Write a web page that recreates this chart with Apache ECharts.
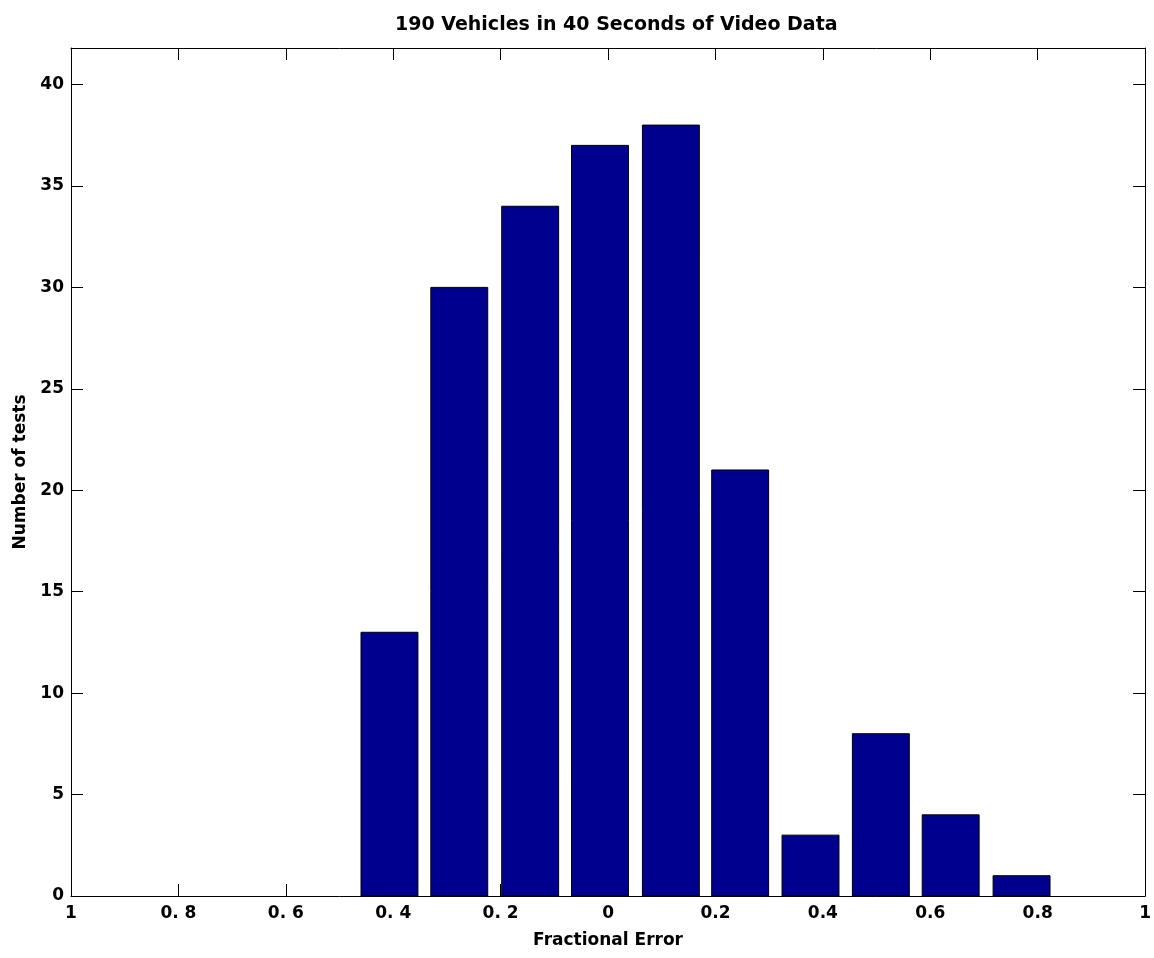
<!DOCTYPE html>
<html>
<head>
<meta charset="utf-8">
<script src="https://cdn.jsdelivr.net/npm/echarts@6/dist/echarts.min.js"></script>
<style>
  html, body { margin: 0; padding: 0; background: #fff; }
  #main { width: 1154px; height: 958px; }
</style>
</head>
<body>
<div id="main"></div>
<script>
// bin centres (fractional error) and counts
var binCenters = [-0.407, -0.277, -0.145, -0.015, 0.117, 0.246, 0.377, 0.508, 0.638, 0.770];
var binCounts  = [13, 30, 34, 37, 38, 21, 3, 8, 4, 1];
// x tick labels as printed (minus signs lost in the original)
var xTickLabels = ['1', '0. 8', '0. 6', '0. 4', '0. 2', '0', '0.2', '0.4', '0.6', '0.8', '1'];

var barW = 0.106; // bar width in data units
var font = 'DejaVu Sans';

var myChart = echarts.init(document.getElementById('main'));

var seriesData = binCenters.map(function (c, i) { return [c, binCounts[i]]; });

var tickLabelStyle = { color: '#000', fontFamily: font, fontWeight: 'bold', fontSize: 17 };
var frameLine = { show: true, onZero: false, lineStyle: { color: '#000', width: 1 } };
var inTick = { show: true, inside: true, length: 12, lineStyle: { color: '#000' } };

var option = {
    animation: false,
    backgroundColor: '#fff',
    title: {
        text: '190 Vehicles in 40 Seconds of Video Data',
        left: 390,
        top: 11,
        textStyle: { color: '#000', fontFamily: font, fontWeight: 'bold', fontSize: 19 }
    },
    grid: { left: 71, right: 5, top: 48, bottom: 62 },
    xAxis: [
        {
            type: 'value',
            min: -1, max: 1, interval: 0.2,
            position: 'bottom',
            name: 'Fractional Error',
            nameLocation: 'middle',
            nameGap: 36,
            nameTextStyle: { color: '#000', fontFamily: font, fontWeight: 'bold', fontSize: 17 },
            axisLine: frameLine,
            axisTick: inTick,
            axisLabel: {
                margin: 9,
                formatter: function (v) {
                    var idx = Math.round((v + 1) / 0.2);
                    return xTickLabels[idx];
                },
                ...tickLabelStyle
            },
            splitLine: { show: false }
        },
        {
            type: 'value',
            min: -1, max: 1, interval: 0.2,
            position: 'top',
            axisLine: frameLine,
            axisTick: inTick,
            axisLabel: { show: false },
            splitLine: { show: false }
        }
    ],
    yAxis: [
        {
            type: 'value',
            min: 0, max: 41.8, interval: 5,
            position: 'left',
            name: 'Number of tests',
            nameLocation: 'middle',
            nameGap: 40,
            nameTextStyle: { color: '#000', fontFamily: font, fontWeight: 'bold', fontSize: 17 },
            axisLine: frameLine,
            axisTick: inTick,
            axisLabel: { showMaxLabel: false, margin: 7, ...tickLabelStyle },
            splitLine: { show: false }
        },
        {
            type: 'value',
            min: 0, max: 41.8, interval: 5,
            position: 'right',
            axisLine: frameLine,
            axisTick: inTick,
            axisLabel: { show: false },
            splitLine: { show: false }
        }
    ],
    series: [
        {
            type: 'custom',
            xAxisIndex: 0,
            yAxisIndex: 0,
            data: seriesData,
            renderItem: function (params, api) {
                var c = api.value(0), v = api.value(1);
                var p0 = api.coord([c - barW / 2, v]);
                var p1 = api.coord([c + barW / 2, 0]);
                return {
                    type: 'rect',
                    shape: { x: p0[0], y: p0[1], width: p1[0] - p0[0], height: p1[1] - p0[1] },
                    style: { fill: '#00008f', stroke: '#000', lineWidth: 1 }
                };
            }
        }
    ]
};

myChart.setOption(option);
window.onresize = function () { myChart.resize(); };
</script>
</body>
</html>
